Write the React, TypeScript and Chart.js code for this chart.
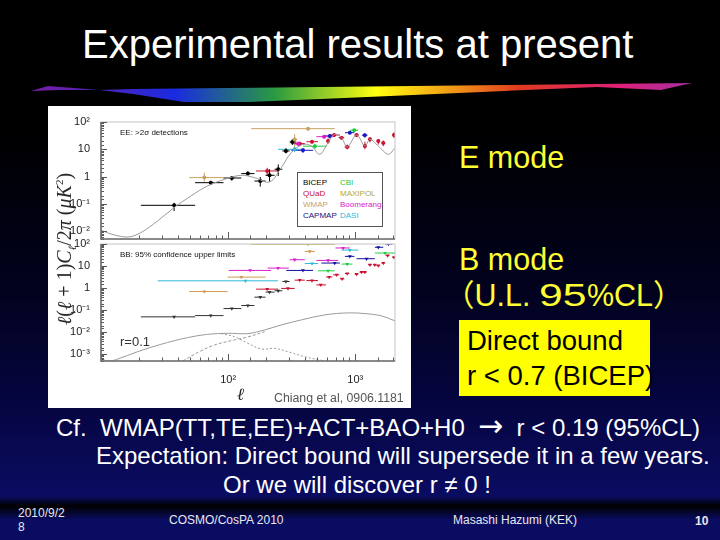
import React, { useEffect, useRef } from 'react';
import Chart from 'chart.js/auto';

// ell range shared by both panels
const ellMin = 10;
const ellMax = 2056;

// EE rows: [ell, ellLow, ellHigh, value, valueLow, valueHigh]
const eeBicep = [
  [37.6, 20.6, 55, 0.089, 0.055, 0.11],
  [73, 55, 92, 0.6, 0.5, 0.7],
  [107, 92, 127, 0.89, 0.71, 1.06],
  [143, 127, 161, 1.29, 1.1, 1.55],
  [179, 161, 197, 0.69, 0.43, 0.97],
  [212, 197, 232, 1.12, 0.66, 1.86],
  [248, 232, 267, 1.86, 1.05, 2.8],
  [285, 267, 305, 8.7, 7.1, 10.9],
  [320, 305, 344, 18.5, 14.4, 23],
];
const eeQuad = [
  [203, 166, 247, 1.61, 1.06, 2.1],
  [366, 334, 401, 16, 13, 19],
  [457, 413, 510, 19, 16, 22],
  [612, 590, 631, 20, 16, 25],
  [683, 631, 757, 33.4, 29, 38],
  [780, 740, 820, 26.7, 23, 30],
  [865, 825, 905, 12.2, 10, 15],
  [1025, 985, 1065, 33.4, 28, 39],
  [1192, 1150, 1230, 13.2, 10, 19],
  [1306, 1260, 1350, 23.2, 18, 28],
  [1520, 1470, 1570, 20, 15, 24],
  [1663, 1610, 1720, 17, 13, 21],
  [2018, 1960, 2056, 33.4, 26, 42],
];
const eeWmap = [
  [65, 49.5, 92, 0.92, 0.65, 1.4],
  [426, 152, 690, 57, 50, 64],
  [334, 320, 350, 23, 11, 36],
];
const eeCapmap = [
  [388, 314, 466, 9.2, 7.4, 11],
  [631, 560, 690, 31, 25, 36],
  [907, 830, 985, 40.6, 36, 46],
  [1190, 1130, 1250, 33, 27, 39],
];
const eeCbi = [
  [481, 389, 594, 13, 10.5, 16],
  [981, 907, 1057, 50, 44, 56],
];
const eeBoomerang = [
  [355, 320, 401, 16, 13, 19],
  [569, 495, 670, 29, 25, 33],
];
const eeDasi = [[334, 247, 401, 10, 7.9, 12.6]];

const eeCurveEll = [10, 12.7, 16.6, 20.6, 27.9, 37.6, 51, 69, 94, 127, 161, 212, 262, 314, 388, 452, 526, 612, 690, 780, 865, 1025, 1192, 1306, 1520, 1824, 2056];
const eeCurveVal = [0.0109, 0.0073, 0.0062, 0.0089, 0.0239, 0.0734, 0.196, 0.456, 0.8, 1.12, 0.92, 0.64, 2.13, 7.55, 15.2, 13.2, 6.56, 17.5, 35.4, 26.7, 12.2, 33.4, 13.2, 23.2, 13.2, 6.56, 11.5];

// BB rows: [ell, ellLow, ellHigh, 95% upper limit]
const bbBicep = [
  [37.6, 20.6, 55, 0.05],
  [73, 55, 92, 0.057],
  [107, 92, 127, 0.119],
  [143, 127, 161, 0.163],
  [179, 161, 197, 0.39],
  [212, 197, 232, 0.66],
  [248, 232, 267, 0.76],
  [285, 267, 305, 2],
];
const bbQuad = [
  [203, 166, 247, 0.9],
  [296, 262, 334, 0.97],
  [366, 334, 401, 2.3],
  [457, 413, 510, 2.2],
  [535, 495, 590, 1.4],
  [624, 590, 660, 3.2],
  [713, 670, 750, 4],
  [789, 760, 820, 2.65],
  [865, 830, 900, 4.6],
  [1025, 990, 1060, 4.3],
  [1122, 1080, 1160, 5.3],
  [1190, 1160, 1230, 5.3],
  [1306, 1260, 1350, 11.5],
  [1428, 1380, 1470, 11.5],
  [1520, 1470, 1570, 10.5],
  [1663, 1610, 1720, 13.7],
  [1800, 1740, 1860, 30],
  [2018, 1960, 2056, 24.7],
];
const bbWmap = [
  [65, 49.5, 99, 0.7],
  [127, 99, 197, 3.16],
  [439, 401, 481, 46],
];
const bbMaxipol = [[426, 152, 690, 100]];
const bbDasi = [
  [137, 27.9, 247, 2.15],
  [907, 780, 1057, 53],
  [457, 401, 510, 13],
];
const bbBoomerang = [
  [149, 101, 218, 6.35],
  [334, 305, 401, 19.4],
  [612, 495, 734, 18],
  [803, 700, 907, 66],
  [247, 205, 300, 8.1],
];
const bbCapmap = [
  [388, 287, 466, 6.35],
  [690, 542, 757, 13.7],
  [907, 830, 985, 27.5],
  [1228, 1025, 1428, 21.5],
  [1520, 1428, 1663, 71],
  [1824, 1720, 1960, 100],
];
const bbCbi = [
  [612, 510, 690, 6.1],
  [865, 780, 950, 12.3],
  [1718, 1428, 2056, 39],
];

const bbTotalEll = [10, 11.6, 13.5, 19.4, 29.6, 48, 69, 99, 143, 194, 262, 377, 575, 881, 1192, 1614, 2056];
const bbTotalVal = [0.00061, 0.0005, 0.00061, 0.00132, 0.00285, 0.00573, 0.0081, 0.009, 0.0087, 0.0128, 0.0215, 0.0364, 0.0614, 0.0757, 0.0705, 0.0552, 0.0327];
const bbTensorEll = [88, 112, 143, 182, 232, 296, 401, 575];
const bbTensorVal = [0.0087, 0.00635, 0.00316, 0.00175, 0.00187, 0.00132, 0.00078, 0.0005];
const bbLensEll = [44, 58, 78, 112, 143, 194];
const bbLensVal = [0.0005, 0.00123, 0.00265, 0.00449, 0.00614, 0.0107];

const legendLeft = [['BICEP', '#000000'], ['QUaD', '#c8102e'], ['WMAP', '#c9a060'], ['CAPMAP', '#10107a']];
const legendRight = [['CBI', '#22cc44'], ['MAXIPOL', '#b8a830'], ['Boomerang', '#d820c8'], ['DASI', '#30b8d8']];

const isDecade = (v: number) => Math.abs(Math.log10(v) - Math.round(Math.log10(v))) < 1e-6;

const tickText: Record<string, string> = {
  '0.001': '10\u207B\u00B3', '0.01': '10\u207B\u00B2', '0.1': '10\u207B\u00B9',
  '1': '1', '10': '10', '100': '10\u00B2', '1000': '10\u00B3',
};

// error bars, inward tick marks and the frame, all placed through the chart's scales
const rootStyle = {
  id: 'rootStyle',
  beforeDatasetsDraw(chart: any) {
    const { ctx, chartArea: a, scales } = chart;
    ctx.save();
    ctx.beginPath();
    ctx.rect(a.left, a.top, a.right - a.left, a.bottom - a.top);
    ctx.clip();
    chart.data.datasets.forEach((ds: any) => {
      if (!ds.rows) return;
      ctx.strokeStyle = ds.backgroundColor;
      ctx.lineWidth = ds.barWidth || 1;
      ds.rows.forEach((r: number[]) => {
        const y = scales.y.getPixelForValue(r[3]);
        ctx.beginPath();
        ctx.moveTo(scales.x.getPixelForValue(r[1]), y);
        ctx.lineTo(scales.x.getPixelForValue(r[2]), y);
        if (r.length > 4) {
          const x = scales.x.getPixelForValue(r[0]);
          ctx.moveTo(x, scales.y.getPixelForValue(r[4]));
          ctx.lineTo(x, scales.y.getPixelForValue(r[5]));
        }
        ctx.stroke();
      });
    });
    ctx.restore();
  },
  afterDatasetsDraw(chart: any) {
    const { ctx, chartArea: a, scales } = chart;
    ctx.save();
    ctx.strokeStyle = '#c4c4c4';
    ctx.lineWidth = 1;
    ctx.strokeRect(a.left, a.top, a.right - a.left, a.bottom - a.top);
    ctx.strokeStyle = '#5a5a5a';
    ctx.lineWidth = 1;
    scales.x.ticks.forEach((t: any) => {
      if (t.value >= ellMax) return;
      const x = Math.round(scales.x.getPixelForValue(t.value)) + 0.5;
      ctx.beginPath();
      ctx.moveTo(x, a.bottom);
      ctx.lineTo(x, a.bottom - (isDecade(t.value) ? 7 : 3.5));
      ctx.stroke();
    });
    scales.y.ticks.forEach((t: any) => {
      const y = Math.round(scales.y.getPixelForValue(t.value)) + 0.5;
      ctx.beginPath();
      ctx.moveTo(a.left, y);
      ctx.lineTo(a.left + (isDecade(t.value) ? 6 : 3), y);
      ctx.stroke();
    });
    ctx.strokeStyle = '#6e6e6e';
    ctx.lineWidth = 1.6;
    ctx.beginPath();
    ctx.moveTo(a.left, a.top);
    ctx.lineTo(a.left, a.bottom);
    ctx.lineTo(a.right, a.bottom);
    ctx.stroke();
    ctx.restore();
  },
};

const curve = (ell: number[], val: number[], dash: number[] = []) => ({
  data: ell.map((x, i) => ({ x, y: val[i] })),
  showLine: true,
  borderColor: '#9a9a9a',
  backgroundColor: '#9a9a9a',
  borderWidth: 1,
  borderDash: dash,
  tension: 0.35,
  pointRadius: 0,
});

const detections = (rows: number[][], color: string) => ({
  data: rows.map((r) => ({ x: r[0], y: r[3] })),
  rows,
  showLine: false,
  backgroundColor: color,
  borderColor: color,
  pointRadius: 2,
  pointBorderWidth: 0,
});

const limits = (rows: number[][], color: string, barWidth = 1) => ({
  data: rows.map((r) => ({ x: r[0], y: r[3] })),
  rows,
  barWidth,
  showLine: false,
  backgroundColor: color,
  borderColor: color,
  pointStyle: 'triangle',
  rotation: 180,
  pointRadius: 2.2,
  pointBorderWidth: 0,
});

const panelOptions = (yMin: number, padTop: number, axisHeight: number, showEll: boolean) => ({
  responsive: false,
  animation: false as const,
  layout: { autoPadding: false, padding: { left: 0, right: 16, top: padTop, bottom: 0 } },
  plugins: { legend: { display: false }, tooltip: { enabled: false } },
  scales: {
    x: {
      type: 'logarithmic' as const,
      min: ellMin,
      max: ellMax,
      afterFit: (s: any) => {
        s.height = axisHeight;
        s.paddingLeft = 0;
        s.paddingRight = 0;
      },
      grid: { display: false },
      border: { display: false },
      ticks: {
        display: showEll,
        autoSkip: false,
        maxRotation: 0,
        padding: 4,
        color: '#222',
        font: { family: 'Liberation Sans', size: 11 },
        callback: (v: any) => (isDecade(Number(v)) && Number(v) > 10 ? tickText[String(Number(v))] : ''),
      },
    },
    y: {
      type: 'logarithmic' as const,
      min: yMin,
      max: 100,
      afterFit: (s: any) => {
        s.width = 53;
        s.paddingTop = 0;
        s.paddingBottom = 0;
      },
      grid: { display: false },
      border: { display: false },
      ticks: {
        autoSkip: false,
        padding: 3,
        color: '#222',
        font: { family: 'Liberation Sans', size: 11 },
        callback: (v: any) => (isDecade(Number(v)) ? tickText[String(Number(v))] : ''),
      },
    },
  },
});

const sans = '"Liberation Sans", Arial, sans-serif';
const at = (left: number, top: number, fontSize: number, color: string, extra: React.CSSProperties = {}): React.CSSProperties => ({
  position: 'absolute', left, top, fontSize, color, lineHeight: 1, whiteSpace: 'nowrap', fontFamily: sans, ...extra,
});

const App: React.FC = () => {
  const eeRef = useRef<HTMLCanvasElement | null>(null);
  const bbRef = useRef<HTMLCanvasElement | null>(null);

  useEffect(() => {
    if (!eeRef.current || !bbRef.current) return;
    const ee = new Chart(eeRef.current, {
      type: 'scatter',
      data: {
        datasets: [
          curve(eeCurveEll, eeCurveVal),
          detections(eeWmap, '#c9a060'),
          detections(eeDasi, '#30b8d8'),
          detections(eeCapmap, '#1a1ac0'),
          detections(eeCbi, '#22cc44'),
          detections(eeBoomerang, '#d820c8'),
          detections(eeQuad, '#c8102e'),
          detections(eeBicep, '#000000'),
        ] as any,
      },
      options: panelOptions(0.0052, 16, 2, false) as any,
      plugins: [rootStyle],
    });
    const bb = new Chart(bbRef.current, {
      type: 'scatter',
      data: {
        datasets: [
          curve(bbTotalEll, bbTotalVal),
          curve(bbTensorEll, bbTensorVal, [2, 2]),
          curve(bbLensEll, bbLensVal, [3, 2]),
          limits(bbMaxipol, '#b8a830', 1.5),
          limits(bbWmap, '#d09a50'),
          limits(bbDasi, '#30b8d8'),
          limits(bbBoomerang, '#d820c8'),
          limits(bbCapmap, '#1010a0'),
          limits(bbCbi, '#22cc44'),
          limits(bbQuad, '#c8102e'),
          limits(bbBicep, '#333333'),
        ] as any,
      },
      options: panelOptions(0.0005, 15, 47, true) as any,
      plugins: [rootStyle],
    });
    return () => {
      ee.destroy();
      bb.destroy();
    };
  }, []);

  return (
    <div style={{
      position: 'fixed', left: 0, top: 0, width: 720, height: 540, overflow: 'hidden',
      background: 'linear-gradient(180deg, #000 0, #000 130px, #02021e 290px, #05053f 400px, #0a0c62 496px, #000 506px, #0a0c62 520px)',
    }}>
      <div style={at(82, 24, 40, '#fff')}>Experimental results at present</div>

      <div style={{
        position: 'absolute', left: 0, top: 0, width: 720, height: 120,
        background: 'linear-gradient(90deg, #7a1fa0 31px, #1a2ae0 175px, #2a9a40 275px, #ffff10 376px, #f09018 459px, #e03a20 519px, #e0207a 620px, #a030a0 692px)',
        clipPath: 'polygon(31px 91px, 48px 86px, 99px 90px, 133px 89px, 225px 88px, 321px 87px, 413px 86px, 505px 85px, 597px 84px, 692px 83px, 661px 90px, 597px 87px, 505px 91px, 413px 95px, 321px 99px, 248px 102px, 184px 102px, 133px 94px, 99px 90px, 60px 90px)',
      }} />

      <div style={{ position: 'absolute', left: 48, top: 106, width: 363, height: 302, background: '#fff' }}>
        <canvas ref={eeRef} width={363} height={135} style={{ position: 'absolute', left: 0, top: 0 }} />
        <canvas ref={bbRef} width={363} height={179} style={{ position: 'absolute', left: 0, top: 123 }} />
        <div style={at(72, 23, 8, '#111')}>EE: &gt;2σ detections</div>
        <div style={at(72, 145, 8, '#111')}>BB: 95% confidence upper limits</div>
        <div style={{ position: 'absolute', left: 249, top: 66, width: 86, height: 55, background: '#fff', border: '1px solid #555', boxSizing: 'border-box' }} />
        {legendLeft.map(([name, color], i) => (
          <div key={name} style={at(255, 73 + i * 11, 8, color)}>{name}</div>
        ))}
        {legendRight.map(([name, color], i) => (
          <div key={name} style={at(292, 73 + i * 11, 8, color)}>{name}</div>
        ))}
        <div style={at(72, 229, 13, '#333')}>r=0.1</div>
        <div style={at(189, 280, 17, '#222', { fontFamily: '"Liberation Serif", serif', fontStyle: 'italic' })}>ℓ</div>
        <div style={at(226, 286, 12.3, '#555')}>Chiang et al, 0906.1181</div>
        <div style={{
          ...at(0, 0, 20, '#222', { fontFamily: '"Liberation Serif", serif' }),
          left: 18, top: 143, transform: 'translate(-50%, -50%) rotate(-90deg)',
        }}>
          <i>ℓ</i>(<i>ℓ</i> + 1)<i>C</i><sub style={{ fontSize: 11 }}><i>ℓ</i></sub>/2<i>π</i> (<i>μK</i><sup style={{ fontSize: 11 }}>2</sup>)
        </div>
      </div>

      <div style={at(459, 142, 30.5, '#ffff33')}>E mode</div>
      <div style={at(459, 244, 30.5, '#ffff33')}>B mode</div>
      <div style={at(444, 280, 30.5, '#ffff33', { fontFamily: '"Liberation Sans", "Noto Sans CJK JP", sans-serif' })}>
        （U.L. <span style={{ display: 'inline-block', width: 48, transform: 'scaleX(1.4)', transformOrigin: 'left' }}>95</span>%CL）
      </div>
      <div style={{ position: 'absolute', left: 459, top: 320, width: 191, height: 76, background: '#ffff00' }} />
      <div style={at(467, 327, 27.5, '#000')}>Direct bound</div>
      <div style={at(467, 362, 27.5, '#000')}>r &lt; 0.7 (BICEP)</div>

      <div style={at(56, 416, 24, '#fff')}>
        Cf.&nbsp; WMAP(TT,TE,EE)+ACT+BAO+H0 &nbsp;<span style={{ fontFamily: '"DejaVu Sans"', fontSize: 30, lineHeight: 0 }}>→</span>&nbsp; r &lt; 0.19 (95%CL)
      </div>
      <div style={at(96, 444, 24, '#fff')}>Expectation: Direct bound will supersede it in a few years.</div>
      <div style={at(223, 473, 24, '#fff')}>Or we will discover r ≠ 0 !</div>

      <div style={at(18, 507, 12, '#e8e8e8')}>2010/9/2</div>
      <div style={at(18, 521, 12, '#e8e8e8')}>8</div>
      <div style={at(169, 514, 12, '#e8e8e8')}>COSMO/CosPA 2010</div>
      <div style={at(453, 514, 12, '#e8e8e8')}>Masashi Hazumi (KEK)</div>
      <div style={at(695, 515, 12, '#e8e8e8', { fontWeight: 'bold' })}>10</div>
    </div>
  );
};

export default App;
